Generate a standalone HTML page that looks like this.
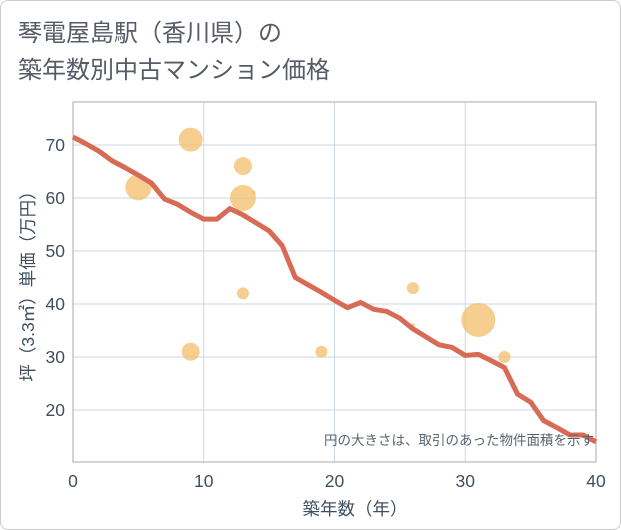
<!DOCTYPE html>
<html><head><meta charset="utf-8"><style>
body{margin:0;background:#fff;font-family:"Liberation Sans","Noto Sans CJK JP",sans-serif}
#wrap{position:relative;width:619px;height:528px;border:1px solid #ccc;border-radius:8px;overflow:hidden}
</style></head><body>
<div id="wrap">
<svg id="svg" width="621" height="530" style="position:absolute;left:-1px;top:-1px">
<text x="18" y="41" font-size="24" fill="#555c66">琴電屋島駅（香川県）の</text>
<text x="18" y="78" font-size="24" fill="#555c66">築年数別中古マンション価格</text>
<g id="grid"></g><g id="bubbles"></g><g id="line"></g>
<text x="355" y="515" font-size="17.5" fill="#3f4f60" text-anchor="middle">築年数（年）</text>
<text transform="translate(34,282) rotate(-90)" font-size="17.5" fill="#3f4f60" text-anchor="middle">坪（3.3㎡）単価（万円）</text>
<text x="594" y="445" font-size="13.5" fill="#5a6470" text-anchor="end">円の大きさは、取引のあった物件面積を示す</text>
</svg></div>
<script>
const lineYears=[0,1,2,3,4,5,6,7,8,9,10,11,12,13,14,15,16,17,18,19,20,21,22,23,24,25,26,27,28,29,30,31,32,33,34,35,36,37,38,39,40];
const lineValues=[71.5,70.2,68.8,67,65.7,64.3,62.8,59.8,58.8,57.3,56,56,58,56.8,55.3,53.8,51,45,43.6,42.2,40.7,39.3,40.3,39,38.6,37.3,35.3,33.8,32.3,31.8,30.3,30.5,29.3,28,23,21.5,18,16.7,15.3,15.3,14];
const bubbleYears=[5,9,9,13,13,13,13.8,19,26,26,31,33];
const bubbleValues=[62,71,31,66,60,42,61,31,43,36,37,30];
const bubbleSizes=[13,12,9,9,13,6,2,6,6,2,17,6];
const xTicks=[0,10,20,30,40];
const yTicks=[20,30,40,50,60,70];
const NS="http://www.w3.org/2000/svg";
const L=73,R=596,T=102,B=462,xMin=0,xMax=40,yMin=10.2,yMax=78.1;
const X=v=>L+(v-xMin)/(xMax-xMin)*(R-L);
const Y=v=>B-(v-yMin)/(yMax-yMin)*(B-T);
function mk(t,a,p){const e=document.createElementNS(NS,t);for(const k in a)e.setAttribute(k,a[k]);p.appendChild(e);return e;}
const g=document.getElementById('grid');
xTicks.forEach(v=>{
 const l=mk('line',{x1:X(v),x2:X(v),y1:T,y2:B,stroke:'#c9d9e6','stroke-width':1},g);
 
 
 const t=mk('text',{x:X(v),y:B+25,'font-size':17.5,fill:'#3f4f60','text-anchor':'middle'},g);t.textContent=v;
 
 
});
yTicks.forEach(v=>{
 const l=mk('line',{x1:L,x2:R,y1:Y(v),y2:Y(v),stroke:'#c9d9e6','stroke-width':1},g);
 
 
 const t=mk('text',{x:L-8,y:Y(v)+6,'font-size':17.5,fill:'#3f4f60','text-anchor':'end'},g);t.textContent=v;
 
 
});
const fr=mk('rect',{x:L,y:T,width:R-L,height:B-T,fill:'none',stroke:'#aaa','stroke-width':1},g);


const bg=document.getElementById('bubbles');
bubbleYears.forEach((yr,i)=>{
 const c=mk('circle',{cx:X(yr),cy:Y(bubbleValues[i]),r:bubbleSizes[i],fill:'#f3bd6b','fill-opacity':0.75},bg);
 
 
});
const p=mk('polyline',{points:lineYears.map((yr,i)=>X(yr)+','+Y(lineValues[i])).join(' '),fill:'none',stroke:'#d76b55','stroke-width':5,'stroke-linejoin':'round'},document.getElementById('line'));


</script>
</body></html>
